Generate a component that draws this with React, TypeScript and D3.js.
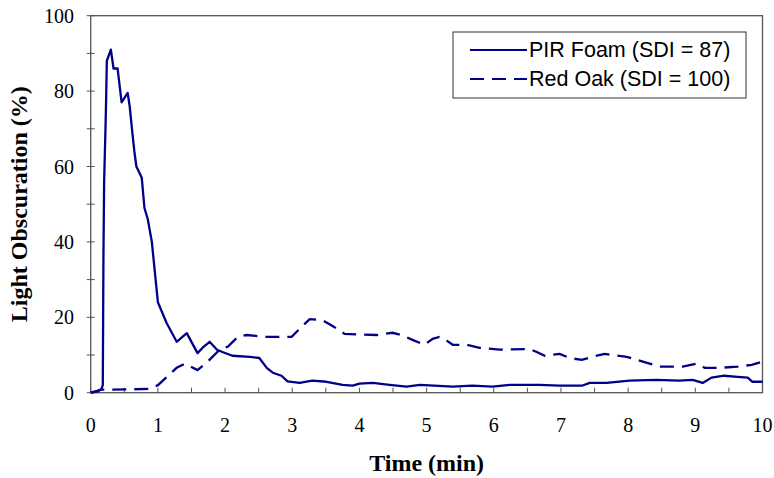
import React from "react";
import * as d3 from "d3";

const pirTime = [0, 0.1, 0.16, 0.18, 0.185, 0.19, 0.2, 0.22, 0.23, 0.24, 0.3, 0.34, 0.4, 0.46, 0.55, 0.58, 0.62, 0.65, 0.68, 0.76, 0.8, 0.85, 0.91, 1.0, 1.13, 1.28, 1.43, 1.59, 1.67, 1.77, 1.88, 1.96, 2.11, 2.37, 2.51, 2.62, 2.71, 2.84, 2.93, 3.11, 3.3, 3.51, 3.75, 3.9, 4.0, 4.2, 4.45, 4.7, 4.9, 5.39, 5.68, 5.98, 6.24, 6.68, 6.98, 7.32, 7.43, 7.68, 8.02, 8.42, 8.76, 8.96, 9.11, 9.24, 9.43, 9.63, 9.78, 9.85, 10];
const pirValue = [0, 0.3, 1, 2, 19, 37, 56, 70, 78, 88, 91, 86, 86, 77, 79.5, 76, 69, 64, 60, 57, 49, 46, 40, 24, 18.5, 13.5, 15.8, 10.5, 12, 13.5, 11.4, 10.8, 9.8, 9.5, 9.2, 6.6, 5.3, 4.5, 3, 2.6, 3.2, 2.9, 2.1, 1.9, 2.4, 2.6, 2.1, 1.6, 2.1, 1.6, 1.9, 1.6, 2.1, 2.1, 1.9, 1.9, 2.6, 2.6, 3.2, 3.4, 3.2, 3.4, 2.6, 4, 4.5, 4.2, 4, 2.9, 2.9];

const oakTime = [0, 0.16, 0.33, 0.88, 1.0, 1.28, 1.4, 1.47, 1.59, 1.74, 1.92, 2.04, 2.19, 2.32, 2.62, 2.99, 3.14, 3.26, 3.44, 3.6, 3.78, 4.26, 4.49, 4.63, 4.79, 4.97, 5.09, 5.19, 5.3, 5.39, 5.6, 5.79, 6.09, 6.53, 6.64, 6.76, 6.98, 7.13, 7.31, 7.46, 7.65, 7.98, 8.17, 8.32, 8.47, 8.81, 9.02, 9.14, 9.36, 9.63, 9.84, 10];
const oakValue = [0, 0.8, 0.8, 1, 2, 6.6, 7.7, 7.1, 6, 8.2, 11.4, 12.2, 14.8, 15.3, 14.8, 14.8, 17.5, 19.5, 19.3, 17.7, 15.6, 15.3, 15.9, 15.3, 14, 12.7, 14.3, 14.8, 13.8, 12.7, 12.7, 11.9, 11.4, 11.6, 10.8, 9.8, 10.3, 9.2, 8.7, 9.5, 10.3, 9.5, 8.5, 7.7, 6.9, 6.9, 7.7, 6.6, 6.6, 6.9, 7.4, 8.2];

const xTicks = [0, 1, 2, 3, 4, 5, 6, 7, 8, 9, 10];
const xMinorTicks = d3.range(0, 10.01, 0.5);
const yTicks = [0, 20, 40, 60, 80, 100];
const yMinorTicks = d3.range(0, 100.1, 10);

const seriesNames = ["PIR Foam (SDI = 87)", "Red Oak (SDI = 100)"];

export default function App() {
  const W = 774, H = 478;
  const x = d3.scaleLinear().domain([0, 10]).range([90.7, 762.5]);
  const y = d3.scaleLinear().domain([0, 100]).range([392.7, 15.7]);
  const line = d3.line<[number, number]>().x(d => x(d[0])).y(d => y(d[1]));
  const pir = line(pirTime.map((t, i) => [t, pirValue[i]]) as [number, number][]);
  const oak = line(oakTime.map((t, i) => [t, oakValue[i]]) as [number, number][]);
  const navy = "#000088";
  const axisCol = "#555";
  const serif = "'Liberation Serif', 'Times New Roman', serif";
  const sans = "'Liberation Sans', Arial, sans-serif";
  return (
    <svg width={W} height={H} style={{ position: "absolute", left: 0, top: 0, background: "#fff" }}>
      <rect x={0} y={0} width={W} height={H} fill="#fff" />
      {/* plot frame */}
      <rect x={x(0)} y={y(100)} width={x(10) - x(0)} height={y(0) - y(100)} fill="none" stroke={axisCol} strokeWidth={1.3} />
      {/* y ticks */}
      {yMinorTicks.map(v => (
        <line key={"yt" + v} x1={x(0) - 4} x2={x(0) + 4} y1={y(v)} y2={y(v)} stroke={axisCol} strokeWidth={1} />
      ))}
      {xMinorTicks.map(v => (
        <line key={"xt" + v} x1={x(v)} x2={x(v)} y1={y(0)} y2={y(0) - 5} stroke={axisCol} strokeWidth={1} />
      ))}
      {yTicks.map(v => (
        <text key={"yl" + v} x={74} y={y(v) + 7} textAnchor="end" fontFamily={serif} fontSize={20} fill="#000">{v}</text>
      ))}
      {xTicks.map(v => (
        <text key={"xl" + v} x={x(v)} y={432} textAnchor="middle" fontFamily={serif} fontSize={20} fill="#000">{v}</text>
      ))}
      <text x={(x(0) + x(10)) / 2} y={471} textAnchor="middle" fontFamily={serif} fontWeight="bold" fontSize={24} fill="#000">Time (min)</text>
      <text transform={`translate(27,${(y(0) + y(100)) / 2}) rotate(-90)`} textAnchor="middle" fontFamily={serif} fontWeight="bold" fontSize={24} fill="#000">Light Obscuration (%)</text>
      {/* data */}
      <path d={oak ?? ""} fill="none" stroke={navy} strokeWidth={2.3} strokeDasharray="14 8" />
      <path d={pir ?? ""} fill="none" stroke={navy} strokeWidth={2.3} strokeLinejoin="round" />
      {/* legend */}
      <rect x={453} y={32} width={293} height={66} fill="#fff" stroke="#333" strokeWidth={1} />
      <line x1={470} x2={527} y1={50} y2={50} stroke={navy} strokeWidth={2} />
      <line x1={470} x2={527} y1={79} y2={79} stroke={navy} strokeWidth={2} strokeDasharray="14 8" />
      <text x={529} y={57} fontFamily={sans} fontSize={21.5} fill="#000">{seriesNames[0]}</text>
      <text x={529} y={86} fontFamily={sans} fontSize={21.5} fill="#000">{seriesNames[1]}</text>
    </svg>
  );
}
